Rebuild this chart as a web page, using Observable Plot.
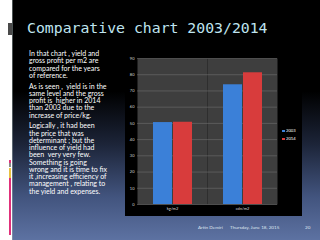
<!DOCTYPE html>
<html>
<head>
<meta charset="utf-8">
<script src="https://cdn.jsdelivr.net/npm/d3@7"></script>
<script src="https://cdn.jsdelivr.net/npm/@observablehq/plot@0.6"></script>
<style>
  html, body { margin:0; padding:0; }
  body { width:320px; height:240px; overflow:hidden; position:relative; background:#fff; font-family: Lato, "Open Sans", sans-serif; }
  #bg { position:absolute; left:12px; top:0; width:308px; height:240px;
        background: linear-gradient(to bottom, #000 0%, #000 38%, #1c2438 60%, #42547e 82%, #5d72a2 100%); }
  #edge { position:absolute; left:12px; top:0; width:1px; height:240px; background:#9aa; opacity:0.5; }
  .deco { position:absolute; }
  #title { position:absolute; left:27px; top:19px; font-family:"DejaVu Sans Mono", monospace; font-size:14.8px; color:#bfe4ef; white-space:nowrap; }
  #body { position:absolute; left:29px; top:50px; width:104px; color:#fff; font-size:7px; line-height:7.25px; letter-spacing:0; }
  #body p { margin:0 0 3.5px 0; }
  #chart { position:absolute; left:125px; top:50px; }
  #legend { position:absolute; left:282px; top:127px; color:#fff; font-size:4.2px; line-height:8px; }
  #legend span.sw { display:inline-block; width:2.5px; height:2.5px; margin-right:1.5px; vertical-align:middle; }
  .foot { position:absolute; top:224px; color:#dfe5f0; font-size:4.6px; white-space:nowrap; }
</style>
</head>
<body>
<div id="bg"></div>
<div id="edge"></div>
<div class="deco" style="left:8px;top:23px;width:4px;height:12px;background:#4a4a4a;"></div>
<div class="deco" style="left:9px;top:160px;width:2px;height:3px;background:#e0307a;"></div>
<div class="deco" style="left:9px;top:163px;width:2px;height:4px;background:#8a8a8a;"></div>
<div class="deco" style="left:9px;top:168px;width:2px;height:10px;background:#e8c040;"></div>
<div class="deco" style="left:9px;top:178px;width:2px;height:57px;background:#e0307a;"></div>
<div id="title">Comparative chart 2003/2014</div>
<div id="body">
<p>In that chart , yield and<br>gross profit per m2 are<br>compared for the years<br>of reference.</p>
<p>As is seen ,&nbsp; yield is in the<br>same level and the gross<br>profit is&nbsp; higher in 2014<br>than 2003 due to the<br>increase of price/kg.</p>
<p>Logically , it had been<br>the price that was<br>determinant ; but the<br>influence of yield had<br>been&nbsp; very very few.<br>Something is going<br>wrong and it is time to fix<br>it ,increasing efficiency of<br>management , relating to<br>the yield and expenses.</p>
</div>
<div id="chart"></div>
<div id="legend"></div>
<div class="foot" style="left:198px;">Artin Demiri</div>
<div class="foot" style="left:230px;">Thursday, June 18, 2015</div>
<div class="foot" style="left:305px;">20</div>
<script>
const categories = ["kg/m2", "cdn/m2"];
const years = ["2003", "2014"];
const values2003 = [50.5, 73.8];
const values2014 = [50.7, 81.2];
const yTicks = [0, 10, 20, 30, 40, 50, 60, 70, 80, 90];
const colors = ["#3b80d8", "#d83c3c"];

const data = [];
categories.forEach((c, i) => {
  data.push({category: c, year: years[0], value: values2003[i]});
  data.push({category: c, year: years[1], value: values2014[i]});
});

const chart = Plot.plot({
  width: 177,
  height: 166,
  marginLeft: 11,
  marginRight: 25,
  marginTop: 8,
  marginBottom: 12,
  style: {background: "#000", color: "#d8d8d8", fontSize: "4px", fontFamily: "Lato, sans-serif"},
  fx: {domain: categories, padding: 0, label: null, axis: "bottom", tickSize: 0, tickPadding: 3},
  x: {domain: years, paddingInner: 0.05, paddingOuter: 0.7, axis: null},
  y: {domain: [0, 90], ticks: yTicks, label: null, tickSize: 0, tickPadding: 3},
  color: {domain: years, range: colors},
  marks: [
    Plot.frame({fill: "#3e3e3e"}),
    Plot.gridY(yTicks, {stroke: "#6e6e6e", strokeOpacity: 1, strokeWidth: 0.6}),
    Plot.barY(data, {fx: "category", x: "year", y: "value", fill: "year"})
  ]
});
document.getElementById("chart").appendChild(chart);

const legend = document.getElementById("legend");
years.forEach((y, i) => {
  const row = document.createElement("div");
  row.innerHTML = `<span class="sw" style="background:${colors[i]}"></span>${y}`;
  legend.appendChild(row);
});
</script>
</body>
</html>
